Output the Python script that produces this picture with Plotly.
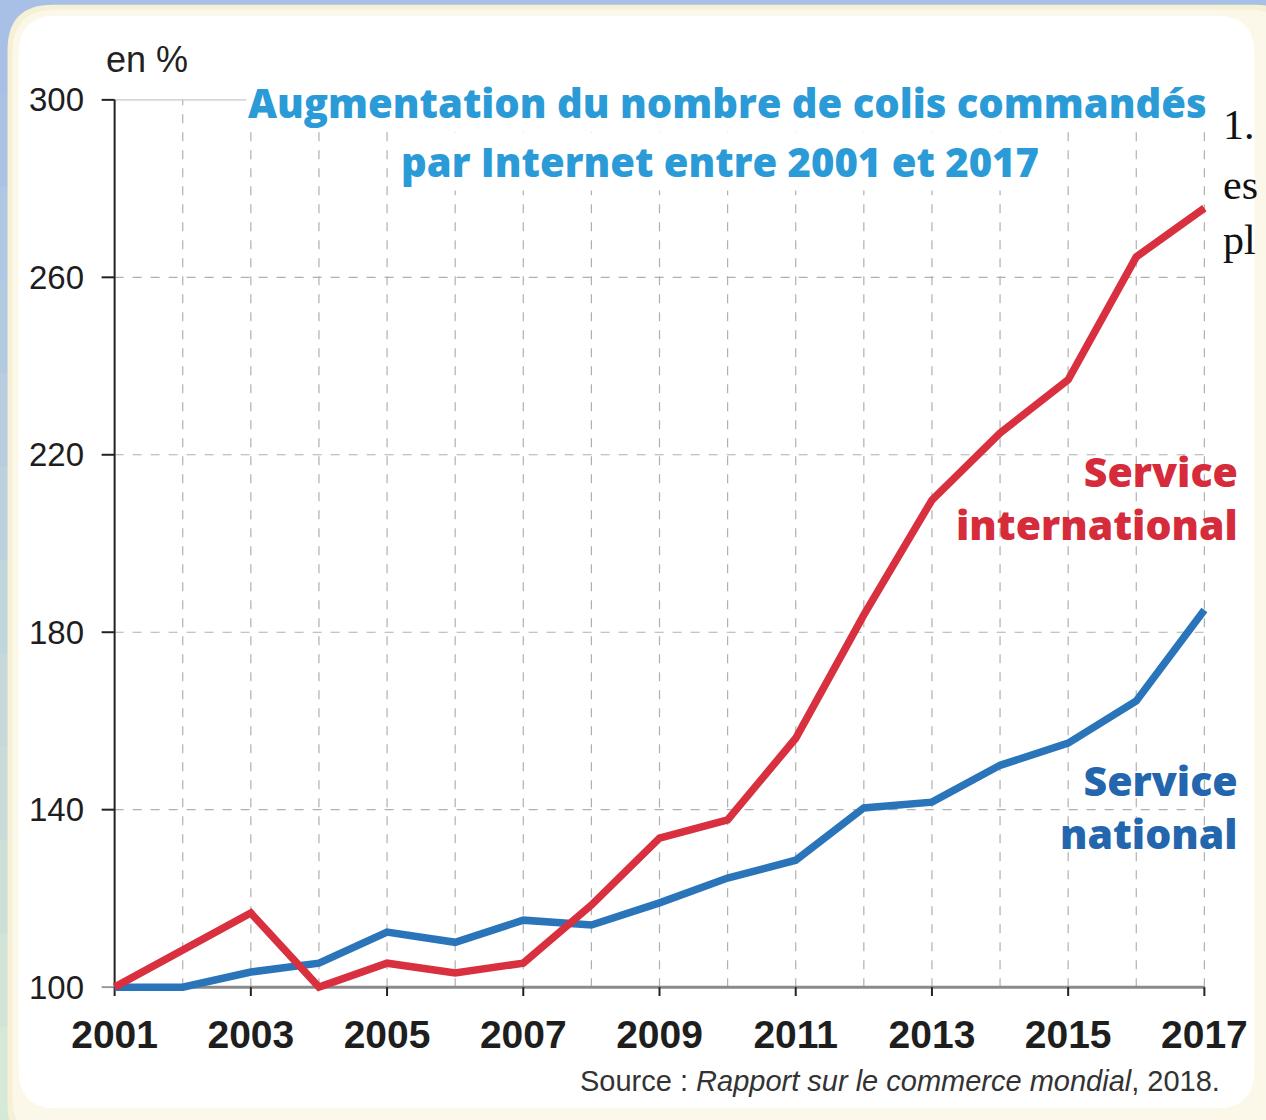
import plotly.graph_objects as go

# ---------------- data ----------------
years = list(range(2001, 2018))
national = [100, 100, 103.4, 105.4, 112.4, 110.1, 115.1, 114.0, 119.0, 124.6,
            128.6, 140.4, 141.7, 150.0, 155.0, 164.5, 185.0]
international = [100, 108.3, 116.7, 100.0, 105.4, 103.2, 105.4, 118.5, 133.6, 137.7,
                 156.1, 183.9, 209.8, 224.9, 236.9, 264.6, 275.6]
y_ticks = [100, 140, 180, 220, 260, 300]
x_ticks = list(range(2001, 2018, 2))
grid_y = [140, 180, 220, 260, 300]

title_1 = "Augmentation du nombre de colis commandés"
title_2 = "par Internet entre 2001 et 2017"
unit_label = "en %"
label_int = "Service<br>international"
label_nat = "Service<br>national"
source = "Source : <i>Rapport sur le commerce mondial</i>, 2018."
side_text = ["1.", "es", "pl"]

# ---------------- geometry ----------------
W, H = 1266, 1120
X_LO, X_HI = 2000.8, 2017.2
Y_LO, Y_HI = 98, 302
px_2001, px_2017 = 115, 1204
py_100, py_300 = 987, 100
ppx = (px_2017 - px_2001) / 16.0
ppy = (py_100 - py_300) / 200.0
L = px_2001 - (2001 - X_LO) * ppx
R = W - (px_2017 + (X_HI - 2017) * ppx)
T = py_300 - (Y_HI - 300) * ppy
B = H - (py_100 + (100 - Y_LO) * ppy)
PW = W - L - R
PH = H - T - B


def xp(px):
    return (px - L) / PW


def yp(py):
    return (H - B - py) / PH


def rounded(x0, y0, x1, y1, r):
    pts = []
    pts.append(f"M {xp(x0 + r)},{yp(y0)}")
    pts.append(f"L {xp(x1 - r)},{yp(y0)}")
    pts.append(f"Q {xp(x1)},{yp(y0)} {xp(x1)},{yp(y0 + r)}")
    pts.append(f"L {xp(x1)},{yp(y1 - r)}")
    pts.append(f"Q {xp(x1)},{yp(y1)} {xp(x1 - r)},{yp(y1)}")
    pts.append(f"L {xp(x0 + r)},{yp(y1)}")
    pts.append(f"Q {xp(x0)},{yp(y1)} {xp(x0)},{yp(y1 - r)}")
    pts.append(f"L {xp(x0)},{yp(y0 + r)}")
    pts.append(f"Q {xp(x0)},{yp(y0)} {xp(x0 + r)},{yp(y0)}")
    pts.append("Z")
    return " ".join(pts)


shapes = []
# left strip gradient (blue to pale green)
n = 12
c0 = (168, 191, 230)
c1 = (214, 232, 214)
for i in range(n):
    t = i / (n - 1)
    c = tuple(int(c0[k] + (c1[k] - c0[k]) * t) for k in range(3))
    shapes.append(dict(type="rect", xref="paper", yref="paper",
                       x0=xp(0), x1=xp(10), y0=yp(i * H / n), y1=yp((i + 1) * H / n + 1),
                       fillcolor=f"rgb{c}", line=dict(width=0), layer="below"))
# cream panel and white inner
shapes.append(dict(type="path", xref="paper", yref="paper", path=rounded(8, 5, 1300, 1150, 45),
                   fillcolor="#f6f0d6", line=dict(width=0), layer="below"))
shapes.append(dict(type="path", xref="paper", yref="paper", path=rounded(13, 10, 1290, 1140, 42),
                   fillcolor="#fbf8ea", line=dict(width=0), layer="below"))
shapes.append(dict(type="path", xref="paper", yref="paper", path=rounded(19, 16, 1254, 1108, 38),
                   fillcolor="#ffffff", line=dict(width=0), layer="below"))

grid_col = "#b0b0b0"
# vertical dashed gridlines
for yr in years[1:]:
    shapes.append(dict(type="line", xref="x", yref="y", x0=yr, x1=yr, y0=100, y1=300,
                       line=dict(color=grid_col, width=1.2, dash="dash"), layer="below"))
# horizontal dashed gridlines
for gy in grid_y:
    shapes.append(dict(type="line", xref="x", yref="y", x0=2001, x1=2017, y0=gy, y1=gy,
                       line=dict(color="#c8c8c8" if gy == 300 else grid_col, width=1.2,
                                 dash="solid" if gy == 300 else "dash"), layer="below"))
# axis lines
shapes.append(dict(type="line", xref="x", yref="y", x0=2001, x1=2017, y0=100, y1=100,
                   line=dict(color="#8a8a8a", width=3), layer="below"))
shapes.append(dict(type="line", xref="x", yref="y", x0=2001, x1=2001, y0=100, y1=300,
                   line=dict(color="#222222", width=2), layer="below"))
# y ticks
for ty in y_ticks:
    shapes.append(dict(type="line", xref="x", yref="y", xsizemode="pixel", xanchor=2001,
                       x0=-13, x1=0, y0=ty, y1=ty,
                       line=dict(color="#9a9a9a" if ty == 100 else "#222222", width=2), layer="below"))
# x ticks
for tx in x_ticks:
    shapes.append(dict(type="line", xref="x", yref="y", ysizemode="pixel", yanchor=100,
                       y0=-14, y1=0, x0=tx, x1=tx,
                       line=dict(color="#222222", width=2), layer="below"))

fig = go.Figure()
fig.add_trace(go.Scatter(x=years, y=national, mode="lines", name="Service national",
                         line=dict(color="#2a74ba", width=7.5), hoverinfo="x+y"))
fig.add_trace(go.Scatter(x=years, y=international, mode="lines", name="Service international",
                         line=dict(color="#d8303f", width=7.5), hoverinfo="x+y"))

title_font = dict(family="'Open Sans', Lato, sans-serif", size=40, color="#2b9bd7", weight=800)
ann = []
ann.append(dict(text=title_1, x=xp(727), y=yp(103), xref="paper", yref="paper",
                xanchor="center", yanchor="middle", showarrow=False, font=title_font,
                bgcolor="white"))
ann.append(dict(text=title_2, x=xp(720), y=yp(162), xref="paper", yref="paper",
                xanchor="center", yanchor="middle", showarrow=False, font=title_font,
                bgcolor="white"))
ann.append(dict(text=unit_label, x=xp(104), y=yp(60), xref="paper", yref="paper",
                xanchor="left", yanchor="middle", showarrow=False,
                font=dict(family="'Liberation Sans Narrow', 'Liberation Sans', sans-serif", size=36, color="#222222")))
lab_font = dict(family="'Open Sans', Lato, sans-serif", size=41, weight=800)
ann.append(dict(text=label_int, x=xp(1240), y=yp(498), xref="paper", yref="paper",
                xanchor="right", yanchor="middle", align="right", showarrow=False,
                font=dict(lab_font, color="#d52b3a")))
ann.append(dict(text=label_nat, x=xp(1240), y=yp(806), xref="paper", yref="paper",
                xanchor="right", yanchor="middle", align="right", showarrow=False,
                font=dict(lab_font, color="#2366ad")))
ann.append(dict(text=source, x=xp(1222), y=yp(1081), xref="paper", yref="paper",
                xanchor="right", yanchor="middle", showarrow=False,
                font=dict(family="'Liberation Sans Narrow', 'Liberation Sans', sans-serif", size=29, color="#333333")))
for i, s in enumerate(side_text):
    ann.append(dict(text=s, x=xp(1221), y=yp([125, 185, 240][i]), xref="paper", yref="paper",
                    xanchor="left", yanchor="middle", showarrow=False,
                    font=dict(family="'Liberation Serif', 'Times New Roman', serif", size=42, color="#111111")))

fig.update_layout(
    width=W, height=H,
    margin=dict(l=L, r=R, t=T, b=B, pad=0),
    paper_bgcolor="#a8bfe6",
    plot_bgcolor="rgba(0,0,0,0)",
    showlegend=False,
    shapes=shapes,
    annotations=ann,
    xaxis=dict(range=[X_LO, X_HI], tickvals=x_ticks, ticktext=[str(v) for v in x_ticks],
               showgrid=False, zeroline=False, showline=False, ticks="",
               ticklabelstandoff=12,
               tickfont=dict(family="'Liberation Sans', Arial, sans-serif", size=39, color="#1e1e1e",
                             weight="bold")),
    yaxis=dict(range=[Y_LO, Y_HI], tickvals=y_ticks, ticktext=[str(v) for v in y_ticks],
               showgrid=False, zeroline=False, showline=False, ticks="",
               ticklabelstandoff=16,
               tickfont=dict(family="'Liberation Sans', Arial, sans-serif", size=33, color="#1e1e1e")),
)

fig.write_html("out.html", config={"displayModeBar": False},
               post_script="document.body.style.margin='0';document.body.style.overflow='hidden';")
